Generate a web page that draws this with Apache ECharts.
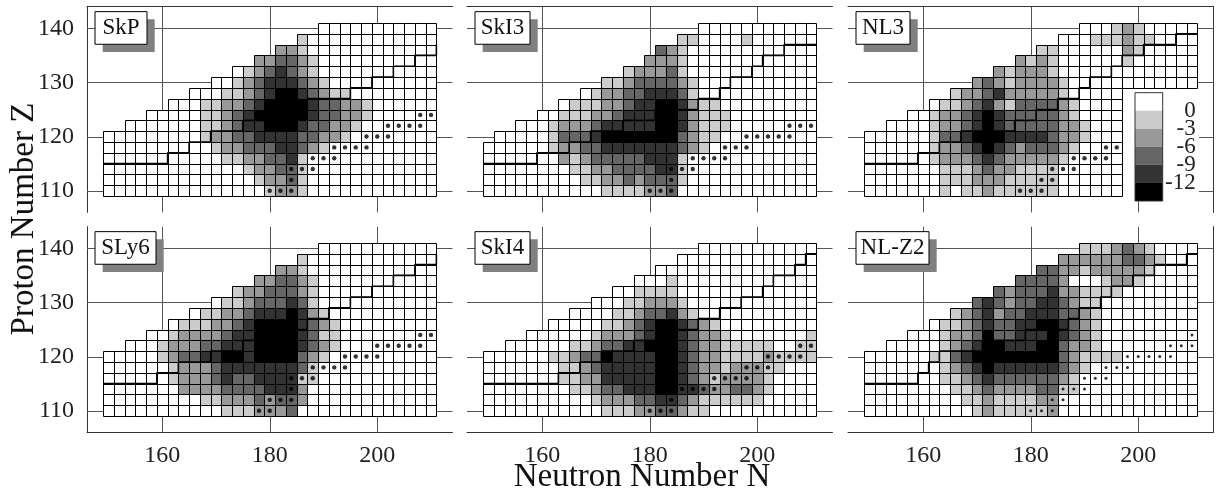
<!DOCTYPE html>
<html>
<head>
<meta charset="utf-8">
<script src="https://cdn.jsdelivr.net/npm/echarts@6.0.0/dist/echarts.min.js"></script>
<style>
html, body { margin: 0; padding: 0; background: #fff; }
#main { width: 1217px; height: 497px; }
</style>
</head>
<body>
<div id="main"></div>
<script>
// one string per row of even-even nuclei, from Z=140 (top) down to Z=110
// digit = shade class: 0 white, 1 light ... 5 black; cells past the string end are white
const zValues = [140, 138, 136, 134, 132, 130, 128, 126, 124, 122, 120, 118, 116, 114, 112, 110]
const firstN = [190, 186, 182, 178, 174, 170, 166, 162, 158, 154, 150, 150, 150, 150, 150, 150]
const firstNSkI3 = [190, 186, 182, 180, 176, 172, 168, 164, 160, 156, 152, 150, 150, 150, 150, 150]
const lastN = [210, 210, 210, 210, 210, 210, 210, 210, 210, 210, 210, 210, 210, 210, 210, 210]
const lastNNL3 = [210, 210, 210, 210, 210, 210, 196, 196, 196, 196, 196, 196, 196, 196, 196, 196]

const shadeColors = ['#ffffff', '#cccccc', '#999999', '#666666', '#333333', '#000000']
const legendBounds = [3, 0, -3, -6, -9, -12, -15]
const legendTicks = [0, -3, -6, -9, -12]
const gridX = [160, 180, 200]
const gridY = [110, 120, 130, 140]

const skpRows = [
    '',
    '1',
    '221',
    '223321',
    '01234321',
    '00123444321',
    '000112345543211',
    '0001122345555433221',
    '000001123455555433221',
    '0000000112344555433221',
    '00000000012233444433221',
    '000000000012233344321',
    '0000000000011223341',
    '0000000000000122331',
    '0000000000000012231',
    '0000000000000001221'
]
const ski3Rows = [
    '',
    '1100001',
    '321',
    '2221',
    '122231',
    '112333321',
    '01223344431',
    '011122344554211',
    '001112234445542111',
    '00012223444445542111',
    '000001333455555553211',
    '000000122334444444321',
    '0000000212333334441',
    '0000000011223333441',
    '0000000001122323331',
    '000000000001111223'
]
const nl3Rows = [
    '000121',
    '000111211',
    '1100000021',
    '21210000001',
    '212221',
    '232122221',
    '12234222221',
    '01123421333321',
    '0012234543333321',
    '0000122345433333221',
    '000000133455544443221',
    '00000012234543233321',
    '0000001222343222221',
    '000000011123221111',
    '000000011122211111',
    '000000010112111111'
]
const sly6Rows = [
    '',
    '1',
    '221',
    '223321',
    '12233321',
    '0112333431',
    '0112234445421',
    '0111223455554321',
    '001222234455554311',
    '00012223344455554321',
    '000001233445545555321',
    '00000012223444444431',
    '00000012223433444411',
    '0000000222233334442',
    '0000000001122232332',
    '000000000001112223'
]
const ski4Rows = [
    '',
    '',
    '',
    '0001',
    '001111',
    '000112221',
    '000011233421',
    '0000011234554321',
    '000000122234554322100000001',
    '00000011233445554322111110011',
    '0000001123354444554322111121111',
    '0000000112344444554322122211',
    '000000011224444455432122221',
    '000000001123344455443223321',
    '00000000001222334432111111',
    '000000000001112233211'
]
const nlz2Rows = [
    '1112321',
    '2222223321',
    '33221222221',
    '333320001221',
    '323334221111',
    '343233443211',
    '12342334443321',
    '0112343344554321',
    '000122353344454321',
    '00000123455444553221',
    '000000113455555555321111',
    '000000012345444444321',
    '00000001123433333321',
    '00000000112322223311',
    '000000000112111122',
    '000000000012111112'
]

// marked nuclei [N, Z]
const skpDots = [[180, 110], [182, 110], [184, 110], [184, 112], [184, 114], [186, 114], [188, 114],
    [188, 116], [190, 116], [192, 116], [192, 118], [194, 118], [196, 118], [198, 118],
    [198, 120], [200, 120], [202, 120], [202, 122], [204, 122], [206, 122], [208, 122], [208, 124], [210, 124]]
const ski3Dots = [[180, 110], [182, 110], [184, 110], [184, 112], [184, 114], [186, 114], [188, 114],
    [188, 116], [190, 116], [192, 116], [194, 116], [194, 118], [196, 118], [198, 118],
    [198, 120], [200, 120], [202, 120], [204, 120], [206, 120], [206, 122], [208, 122], [210, 122]]
const nl3Dots = [[178, 110], [180, 110], [182, 110], [182, 112], [184, 112], [184, 114], [186, 114], [188, 114],
    [188, 116], [190, 116], [192, 116], [194, 116], [194, 118], [196, 118]]
const sly6Dots = [[178, 110], [180, 110], [180, 112], [182, 112], [184, 112], [184, 114], [184, 116], [186, 116], [188, 116],
    [188, 118], [190, 118], [192, 118], [194, 118], [194, 120], [196, 120], [198, 120], [200, 120],
    [200, 122], [202, 122], [204, 122], [206, 122], [208, 122], [208, 124], [210, 124]]
const ski4Dots = [[180, 110], [182, 110], [184, 110], [184, 112], [186, 114], [188, 114], [190, 114], [192, 114],
    [192, 116], [194, 116], [196, 116], [198, 116], [198, 118], [200, 118], [202, 118],
    [202, 120], [204, 120], [206, 120], [208, 120], [208, 122], [210, 122]]
const nlz2Dots = [[180, 110], [182, 110], [184, 110], [184, 112], [186, 112], [186, 114], [188, 114], [190, 114],
    [190, 116], [192, 116], [194, 116], [194, 118], [196, 118], [198, 118],
    [198, 120], [200, 120], [202, 120], [204, 120], [206, 120], [206, 122], [208, 122], [210, 122], [210, 124]]

// staircase line: [N where the horizontal run starts, Z of the run]
const skpSteps = [[149, 115], [161, 117], [165, 119], [169, 121], [175, 123], [181, 125], [187, 127],
    [195, 129], [199, 131], [203, 133], [207, 135], [211, 137]]
const ski3Steps = [[149, 115], [159, 117], [165, 119], [169, 121], [175, 123], [181, 125], [189, 127],
    [193, 129], [195, 131], [199, 133], [201, 135], [205, 137]]
const nl3Steps = [[149, 115], [159, 117], [163, 119], [167, 121], [177, 123], [181, 125], [185, 127],
    [189, 129], [191, 131], [195, 133], [197, 135], [201, 137], [207, 139]]
const sly6Steps = [[149, 115], [159, 117], [163, 119], [169, 121], [175, 123], [181, 125], [187, 127],
    [191, 129], [195, 131], [199, 133], [203, 135], [207, 137], [211, 139]]
const ski4Steps = [[149, 115], [163, 117], [167, 119], [171, 121], [177, 123], [183, 125], [189, 127],
    [193, 129], [197, 131], [201, 133], [203, 135], [207, 137], [209, 139]]
const nlz2Steps = [[149, 115], [159, 117], [161, 119], [163, 121], [171, 123], [179, 125], [187, 127],
    [189, 129], [193, 131], [195, 133], [199, 135], [203, 137], [209, 139]]

const panels = [
    { name: 'SkP', rows: skpRows, first: firstN, last: lastN, dots: skpDots, steps: skpSteps, boxW: 52, dot: 4.4 },
    { name: 'SkI3', rows: ski3Rows, first: firstNSkI3, last: lastN, dots: ski3Dots, steps: ski3Steps, boxW: 55, dot: 4.4 },
    { name: 'NL3', rows: nl3Rows, first: firstN, last: lastNNL3, dots: nl3Dots, steps: nl3Steps, boxW: 54, dot: 4.4 },
    { name: 'SLy6', rows: sly6Rows, first: firstN, last: lastN, dots: sly6Dots, steps: sly6Steps, boxW: 61, dot: 4.4 },
    { name: 'SkI4', rows: ski4Rows, first: firstN, last: lastN, dots: ski4Dots, steps: ski4Steps, boxW: 55, dot: 4.4 },
    { name: 'NL-Z2', rows: nlz2Rows, first: firstN, last: lastN, dots: nlz2Dots, steps: nlz2Steps, boxW: 73, dot: 3 }
]

const lefts = [87, 467, 848]
const tops = [6.65, 226.65]
const panelW = 365.5
const panelH = 205.7
const serif = 'Liberation Serif'

function cellData (p) {
    const out = []
    p.rows.forEach(function (row, k) {
        for (let n = p.first[k]; n <= p.last[k]; n += 2) {
            const i = (n - p.first[k]) / 2
            out.push([n, zValues[k], i < row.length ? Number(row[i]) : 0])
        }
    })
    return out
}

function stepPoints (steps) {
    const pts = []
    steps.forEach(function (s, k) {
        const next = k + 1 < steps.length ? steps[k + 1][0] : 211
        pts.push([s[0], s[1]], [next, s[1]])
    })
    return pts
}

// cells snapped to whole pixels so neighbouring fills meet without seams
function renderCell (params, api) {
    const a = api.coord([api.value(0) - 1, api.value(1) + 1])
    const b = api.coord([api.value(0) + 1, api.value(1) - 1])
    const x0 = Math.round(a[0])
    const y0 = Math.round(a[1])
    const x1 = Math.round(b[0])
    const y1 = Math.round(b[1])
    return {
        type: 'rect',
        shape: { x: x0 + 0.5, y: y0 + 0.5, width: x1 - x0, height: y1 - y0 },
        style: { fill: shadeColors[api.value(2)], stroke: '#000', lineWidth: 1 }
    }
}

function renderGridLine (params, api) {
    const cs = params.coordSys
    const v = api.value(0)
    if (api.value(1) === 0) {
        const x = Math.round(api.coord([v, 125])[0]) + 0.5
        return { type: 'line', shape: { x1: x, y1: cs.y, x2: x, y2: cs.y + cs.height }, style: { stroke: '#555', lineWidth: 1 } }
    }
    const y = Math.round(api.coord([180, v])[1]) + 0.5
    return { type: 'line', shape: { x1: cs.x, y1: y, x2: cs.x + cs.width, y2: y }, style: { stroke: '#555', lineWidth: 1 } }
}

function renderLegend (params, api) {
    const a = api.coord([0, api.value(0)])
    const b = api.coord([1, api.value(1)])
    return {
        type: 'rect',
        shape: { x: a[0], y: a[1], width: b[0] - a[0], height: b[1] - a[1] },
        style: { fill: shadeColors[api.value(2)] }
    }
}

const grids = []
const xAxes = []
const yAxes = []
const series = []
const graphics = []
const lineData = gridX.map(function (v) { return [v, 0] }).concat(gridY.map(function (v) { return [v, 1] }))

panels.forEach(function (p, idx) {
    const col = idx % 3
    const row = Math.floor(idx / 3)
    grids.push({ left: lefts[col], top: tops[row], width: panelW, height: panelH })
    xAxes.push({
        gridIndex: idx, type: 'value', min: 146, max: 214, interval: 2,
        position: row === 0 ? 'top' : 'bottom',
        axisLine: { show: true, lineStyle: { color: '#333', width: 1 } },
        axisTick: { show: false },
        splitLine: { show: false },
        axisLabel: {
            show: row === 1, margin: 11, fontFamily: serif, fontSize: 24, color: '#222',
            formatter: function (v) { return v % 20 === 0 ? String(v) : '' }
        }
    })
    yAxes.push({
        gridIndex: idx, type: 'value', min: 106, max: 144, interval: 2,
        position: col === 2 ? 'right' : 'left',
        axisLine: { show: col !== 1, lineStyle: { color: '#333', width: 1 } },
        axisTick: { show: false },
        splitLine: { show: false },
        axisLabel: {
            show: col === 0, margin: 13, fontFamily: serif, fontSize: 24, color: '#222',
            formatter: function (v) { return v % 10 === 0 ? String(v) : '' }
        }
    })
    series.push({
        type: 'custom', xAxisIndex: idx, yAxisIndex: idx, z: 1, silent: true,
        renderItem: renderGridLine, data: lineData
    })
    series.push({
        type: 'custom', xAxisIndex: idx, yAxisIndex: idx, z: 2, silent: true,
        renderItem: renderCell, data: cellData(p)
    })
    series.push({
        type: 'line', xAxisIndex: idx, yAxisIndex: idx, z: 3, silent: true,
        data: stepPoints(p.steps), showSymbol: false,
        lineStyle: { color: '#000', width: 1.6 }
    })
    series.push({
        type: 'scatter', xAxisIndex: idx, yAxisIndex: idx, z: 4, silent: true,
        data: p.dots, symbolSize: p.dot, itemStyle: { color: '#000' }
    })
    const bx = lefts[col] + 8
    const by = tops[row] + 5
    graphics.push({ type: 'rect', z: 10, shape: { x: bx + 7.7, y: by + 7.7, width: p.boxW, height: 32.6 }, style: { fill: '#808080' } })
    graphics.push({ type: 'rect', z: 11, shape: { x: bx, y: by, width: p.boxW, height: 32.6 }, style: { fill: '#fff', stroke: '#000', lineWidth: 1 } })
    graphics.push({
        type: 'text', z: 12, x: bx + p.boxW / 2, y: by + 16.8,
        style: { text: p.name, font: '23px "Liberation Serif"', fill: '#111', textAlign: 'center', textVerticalAlign: 'middle' }
    })
})

// legend of the shade classes, inside the NL3 panel
grids.push({ left: 1135, top: 92.7, width: 27.7, height: 108.3, show: true, borderColor: '#333', borderWidth: 1, z: 5 })
xAxes.push({ gridIndex: 6, type: 'value', min: 0, max: 1, show: false })
yAxes.push({
    gridIndex: 6, type: 'value', min: -15, max: 3, interval: 3, position: 'right', z: 5,
    axisLine: { show: false }, axisTick: { show: false }, splitLine: { show: false },
    axisLabel: {
        margin: 33, align: 'right', fontFamily: serif, fontSize: 23, color: '#222',
        formatter: function (v) { return legendTicks.indexOf(v) >= 0 ? String(v) : '' }
    }
})
series.push({
    type: 'custom', xAxisIndex: 6, yAxisIndex: 6, z: 4, silent: true, renderItem: renderLegend,
    data: legendBounds.slice(0, 6).map(function (hi, k) { return [hi, legendBounds[k + 1], k] })
})
graphics.push({ type: 'rect', z: 1.5, shape: { x: 1122, y: 88, width: 77, height: 113.5 }, style: { fill: '#fff' } })

graphics.push({
    type: 'text', z: 12, x: 642, y: 477,
    style: { text: 'Neutron Number N', font: '33px "Liberation Serif"', fill: '#111', textAlign: 'center', textVerticalAlign: 'middle' }
})
graphics.push({
    type: 'text', z: 12, x: 24, y: 219, rotation: Math.PI / 2,
    style: { text: 'Proton Number Z', font: '33px "Liberation Serif"', fill: '#111', textAlign: 'center', textVerticalAlign: 'middle' }
})

const myChart = echarts.init(document.getElementById('main'))
myChart.setOption({
    animation: false,
    grid: grids,
    xAxis: xAxes,
    yAxis: yAxes,
    series: series,
    graphic: graphics
})
</script>
</body>
</html>
